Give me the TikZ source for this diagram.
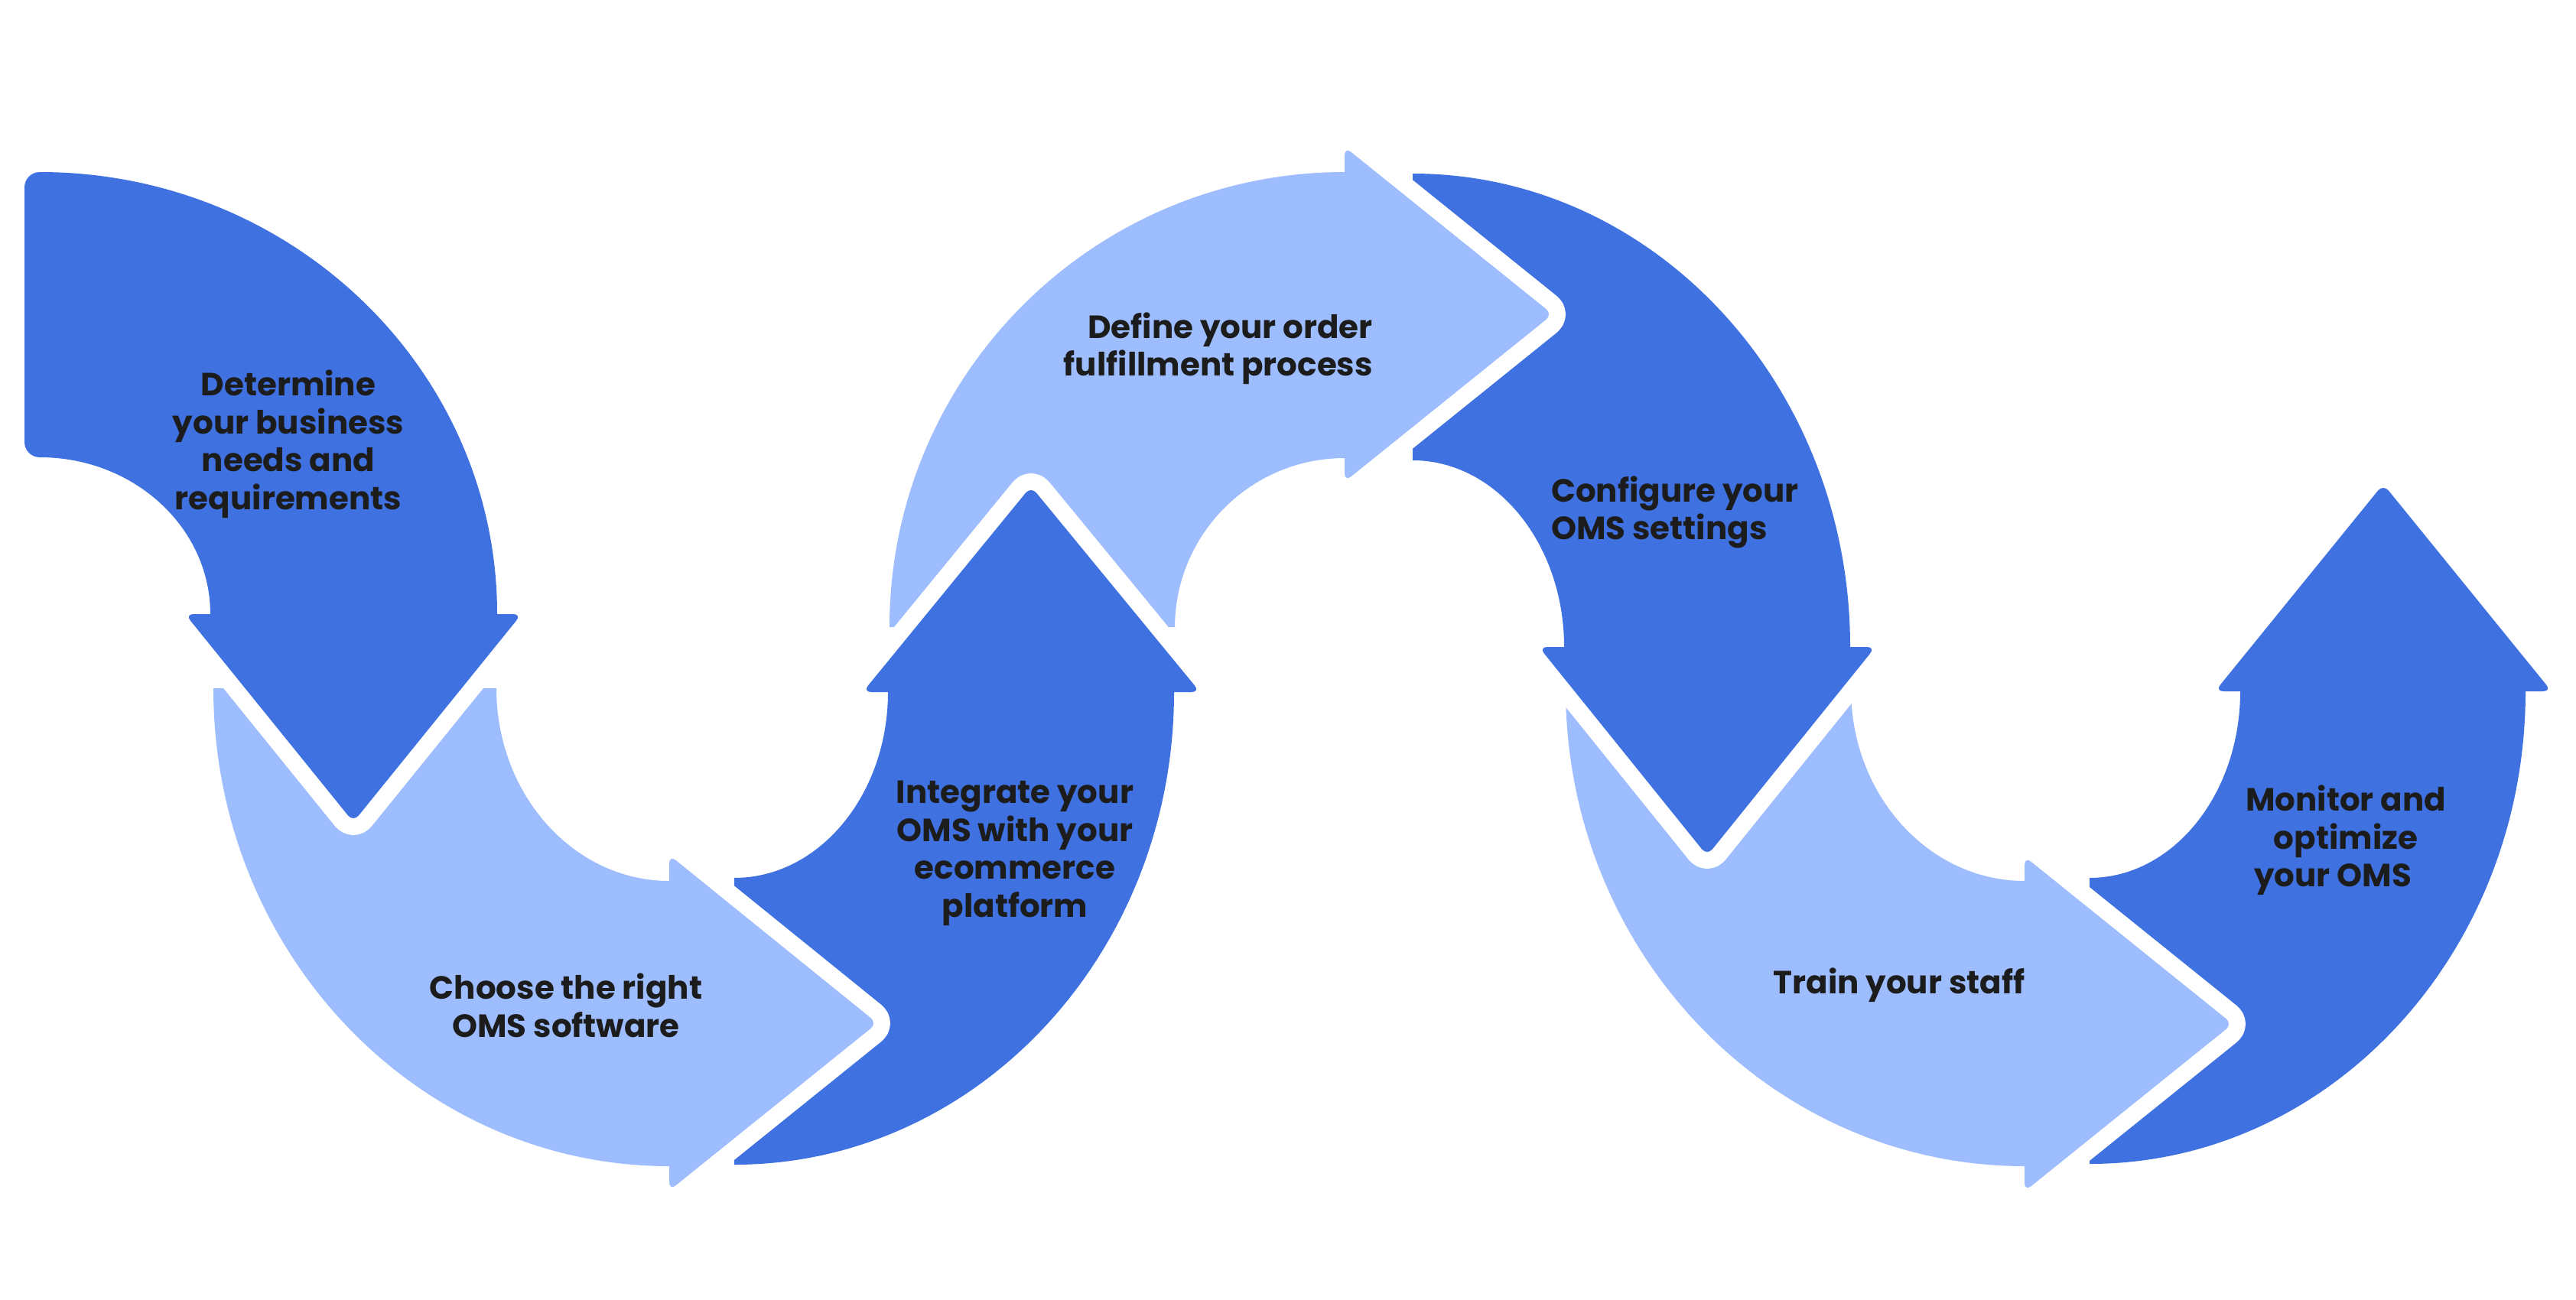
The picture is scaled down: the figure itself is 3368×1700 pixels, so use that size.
\documentclass[tikz,border=0pt]{standalone}
\usepackage{fontspec}
\setmainfont{Poppins}
\definecolor{cdark}{HTML}{3F71E1}
\definecolor{clight}{HTML}{9DBDFE}
\definecolor{ctext}{HTML}{1C1C1C}
\tikzset{
  ringarrow/.style={preaction={draw=white, line width=44pt, line join=round}},
  darkarrow/.style={ringarrow, fill=cdark},
  lightarrow/.style={ringarrow, fill=clight},
  lbl/.style={font=\fontsize{42}{49.5}\selectfont\bfseries, text=ctext, inner sep=0pt, align=center}
}
\begin{document}
\begin{tikzpicture}[x=1pt,y=-1pt]
\useasboundingbox (0,0) rectangle (3368,1700);
\fill[white] (0,0) rectangle (3368,1700);

% arrow 7 (dark, up)
\path[darkarrow] (2732,1148) -- (2732,1522)
  arc[start angle=90, end angle=0, x radius=570, y radius=618]
  -- (3302,892) -- (2929,892) -- (2929,904)
  arc[start angle=0, end angle=90, x radius=197, y radius=244] -- cycle
  [rounded corners=11pt] (3336,904) -- (3116,633) -- (2896,904) -- cycle;
% arrow 6 (light, right)
\path[lightarrow] (2420,901) -- (2047,901)
  arc[start angle=180, end angle=90, x radius=600, y radius=624]
  -- (2659,1525) -- (2659,1152) -- (2647,1152)
  arc[start angle=90, end angle=180, x radius=227, y radius=251] -- cycle
  [rounded corners=11pt] (2647,1558) -- (2919,1339) -- (2647,1120) -- cycle;
% arrow 5 (dark, down)
\path[darkarrow] (1847,602) -- (1847,227)
  arc[start angle=270, end angle=360, x radius=572, y radius=619]
  -- (2419,858) -- (2045,858) -- (2045,846)
  arc[start angle=0, end angle=-90, x radius=198, y radius=244] -- cycle
  [rounded corners=11pt] (2452,846) -- (2232,1119) -- (2012,846) -- cycle;
% arrow 4 (light, right)
\path[lightarrow] (1536,820) -- (1163,820)
  arc[start angle=180, end angle=270, radius=595]
  -- (1770,225) -- (1770,599) -- (1758,599)
  arc[start angle=270, end angle=180, radius=222] -- cycle
  [rounded corners=11pt] (1758,192) -- (2030,411) -- (1758,630) -- cycle;
% arrow 3 (dark, up)
\path[darkarrow] (960,1148) -- (960,1523)
  arc[start angle=90, end angle=0, x radius=575, y radius=618]
  -- (1535,893) -- (1161,893) -- (1161,905)
  arc[start angle=0, end angle=90, x radius=201, y radius=243] -- cycle
  [rounded corners=11pt] (1569,905) -- (1348,636) -- (1128,905) -- cycle;
% arrow 2 (light, right)
\path[lightarrow] (649,900) -- (279,900)
  arc[start angle=180, end angle=90, x radius=596, y radius=625]
  -- (887,1525) -- (887,1152) -- (875,1152)
  arc[start angle=90, end angle=180, x radius=226, y radius=252] -- cycle
  [rounded corners=11pt] (875,1557) -- (1147,1338) -- (875,1118) -- cycle;
% arrow 1 (dark, down)
\path[darkarrow] (52,598)
  arc[start angle=90, end angle=180, radius=20] -- (32,245)
  arc[start angle=180, end angle=270, radius=20]
  arc[start angle=270, end angle=360, x radius=598, y radius=578]
  -- (650,815) -- (275,815) -- (275,803)
  arc[start angle=0, end angle=-90, x radius=223, y radius=205] -- cycle
  [rounded corners=11pt] (682,803) -- (462,1075) -- (242,803) -- cycle;

\node[lbl] (t1) at (377,581) {Determine\\your business\\needs and\\requirements};
\node[lbl] (t2) at (740,1315) {Choose the right\\OMS software};
\node[lbl] (t3) at (1327,1116) {Integrate your\\OMS with your\\ecommerce\\platform};
\node[lbl, align=right, anchor=east] (t4) at (1795,456) {Define your order\\fulfillment process};
\node[lbl, align=left, anchor=west] (t5) at (2028,670) {Configure your\\OMS settings};
\node[lbl] (t6) at (2483,1288) {Train your staff};
\node[lbl] (t7) at (3067,1099) {Monitor and\\optimize\\your OMS\rule{34pt}{0pt}};
\end{tikzpicture}
\end{document}
